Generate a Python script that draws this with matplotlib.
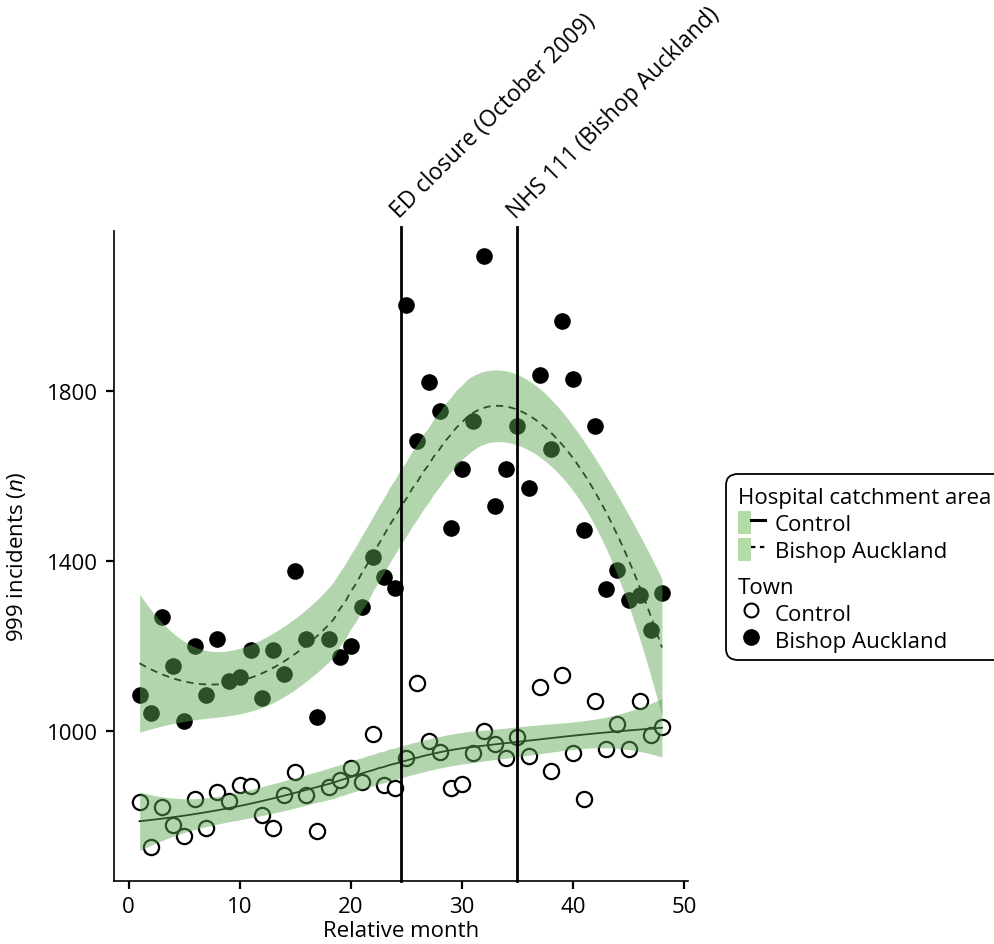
import numpy as np
import matplotlib
matplotlib.use("Agg")
import matplotlib.pyplot as plt
from matplotlib.patches import Patch, FancyBboxPatch
from matplotlib.lines import Line2D
from matplotlib.legend_handler import HandlerTuple

plt.rcParams['font.family'] = ['Open Sans', 'DejaVu Sans']
plt.rcParams['mathtext.fontset'] = 'custom'
plt.rcParams['mathtext.rm'] = 'Open Sans'
plt.rcParams['mathtext.it'] = 'Open Sans:italic'

# ---------------- data ----------------
months = list(range(1, 49))
bishop = [1084, 1041, 1268, 1153, 1022, 1200, 1085, 1215, 1117, 1127, 1190, 1077,
          1190, 1134, 1375, 1215, 1032, 1215, 1174, 1200, 1292, 1409, 1361, 1335,
          2000, 1681, 1819, 1752, 1476, 1615, 1728, 2116, 1529, 1615, 1717, 1571,
          1837, 1662, 1963, 1826, 1472, 1717, 1333, 1378, 1307, 1320, 1237, 1323]
control = [833, 728, 821, 778, 752, 840, 771, 855, 836, 873, 871, 803,
           771, 849, 902, 849, 764, 867, 884, 912, 879, 992, 873, 865,
           936, 1112, 977, 951, 865, 874, 948, 999, 968, 937, 986, 941,
           1102, 905, 1131, 949, 840, 1070, 957, 1016, 957, 1070, 990, 1009]
event_months = [24.5, 35]
event_labels = ["ED closure (October 2009)", "NHS 111 (Bishop Auckland)"]
x_ticks = [0, 10, 20, 30, 40, 50]
y_ticks = [1000, 1400, 1800]


# ---------------- loess smoother (local quadratic, span 0.75) ----------------
def loess_weights(x, x0, span=0.75, degree=2):
    n = len(x)
    q = int(np.floor(n * span))
    d = np.abs(x - x0)
    h = np.sort(d)[q - 1]
    u = np.clip(d / h, 0, 1)
    w = (1 - u ** 3) ** 3
    X = np.vander(x - x0, degree + 1, increasing=True)
    W = np.diag(w)
    A = X.T @ W @ X
    l = np.linalg.solve(A, X.T @ W)[0]
    return l


def t_quantile(df):
    # Cornish-Fisher approximation of the 0.975 Student t quantile
    z = 1.959963984540054
    g1 = (z ** 3 + z) / 4
    g2 = (5 * z ** 5 + 16 * z ** 3 + 3 * z) / 96
    g3 = (3 * z ** 7 + 19 * z ** 5 + 17 * z ** 3 - 15 * z) / 384
    return z + g1 / df + g2 / df ** 2 + g3 / df ** 3


def loess_fit(x, y, xg, span=0.75):
    x = np.asarray(x, float)
    y = np.asarray(y, float)
    n = len(x)
    L = np.array([loess_weights(x, xi, span) for xi in x])
    resid = y - L @ y
    M = (np.eye(n) - L).T @ (np.eye(n) - L)
    d1 = np.trace(M)
    d2 = np.trace(M @ M)
    sigma = np.sqrt(np.sum(resid ** 2) / d1)
    df = d1 ** 2 / d2
    Lg = np.array([loess_weights(x, xv, span) for xv in xg])
    fit = Lg @ y
    se = sigma * np.sqrt(np.sum(Lg ** 2, axis=1))
    t = t_quantile(df)
    return fit, fit - t * se, fit + t * se


xg = np.linspace(min(months), max(months), 200)
fit_c, lo_c, hi_c = loess_fit(months, control, xg)
fit_b, lo_b, hi_b = loess_fit(months, bishop, xg)

# ---------------- figure ----------------
FS = 16
fig = plt.figure(figsize=(9.95, 9.45), dpi=100)
ax = fig.add_axes([0.1141, 0.0667, 0.5774, 0.6878])

band_color = (0.37, 0.66, 0.33)
band_alpha = 0.48
ms = 120

ax.scatter(months, control, s=ms, facecolors='white', edgecolors='black', linewidths=1.6, zorder=2)
ax.scatter(months, bishop, s=ms, facecolors='black', edgecolors='black', linewidths=1.0, zorder=2)

ax.plot(xg, fit_c, color='black', lw=1.3, zorder=3)
ax.plot(xg, fit_b, color='black', lw=1.3, ls=(0, (4, 3)), zorder=3)

ax.fill_between(xg, lo_c, hi_c, color=band_color, alpha=band_alpha, lw=0, zorder=4)
ax.fill_between(xg, lo_b, hi_b, color=band_color, alpha=band_alpha, lw=0, zorder=4)

for xm, lab in zip(event_months, event_labels):
    ax.axvline(xm, color='black', lw=2.0, zorder=5, clip_on=False, ymax=1.006)
    ax.annotate(lab, xy=(xm, 1.0), xycoords=('data', 'axes fraction'),
                xytext=(2, 6), textcoords='offset points',
                rotation=45, rotation_mode='anchor', ha='left', va='bottom',
                fontsize=16.5)

ax.set_xlim(-1.35, 50.35)
ax.set_ylim(647, 2175)
ax.set_xticks(x_ticks)
ax.set_yticks(y_ticks)
ax.tick_params(labelsize=FS, width=1.6, length=6, color='black', pad=5)
for s in ['top', 'right']:
    ax.spines[s].set_visible(False)
for s in ['left', 'bottom']:
    ax.spines[s].set_linewidth(1.2)
ax.set_xlabel('Relative month', fontsize=FS, labelpad=2)
ax.set_ylabel('999 incidents ($\\it{n}$)', fontsize=FS, labelpad=14)

# ---------------- legend ----------------
frame = FancyBboxPatch((726 / 995, (945 - 661) / 945), 300 / 995, 186 / 945,
                       boxstyle='round,pad=0,rounding_size=0.012',
                       transform=fig.transFigure, facecolor='white',
                       edgecolor='black', lw=1.3, clip_on=False)
fig.patches.append(frame)

key_patch = Patch(facecolor='#b3dba5', edgecolor='none')
h1 = [(key_patch, Line2D([], [], color='black', lw=2.2)),
      (key_patch, Line2D([], [], color='black', lw=1.6, ls=(0, (2, 2))))]
leg1 = fig.legend(h1, ['Control', 'Bishop Auckland'], title='Hospital catchment area',
                  loc='upper left', bbox_to_anchor=(738 / 995, (945 - 488) / 945),
                  frameon=False, fontsize=FS, title_fontsize=FS, alignment='left',
                  handler_map={tuple: HandlerTuple(ndivide=None)},
                  handlelength=1.2, handleheight=1.25, handletextpad=0.45,
                  labelspacing=0.12, borderpad=0, borderaxespad=0)
h2 = [Line2D([], [], ls='none', marker='o', markersize=10, markerfacecolor='white',
             markeredgecolor='black', markeredgewidth=1.5),
      Line2D([], [], ls='none', marker='o', markersize=11, markerfacecolor='black',
             markeredgecolor='black')]
leg2 = fig.legend(h2, ['Control', 'Bishop Auckland'], title='Town',
                  loc='upper left', bbox_to_anchor=(738 / 995, (945 - 578) / 945),
                  frameon=False, fontsize=FS, title_fontsize=FS, alignment='left',
                  handlelength=1.2, handleheight=1.25, handletextpad=0.45,
                  labelspacing=0.12, borderpad=0, borderaxespad=0)

fig.savefig('out.png', dpi=100)
